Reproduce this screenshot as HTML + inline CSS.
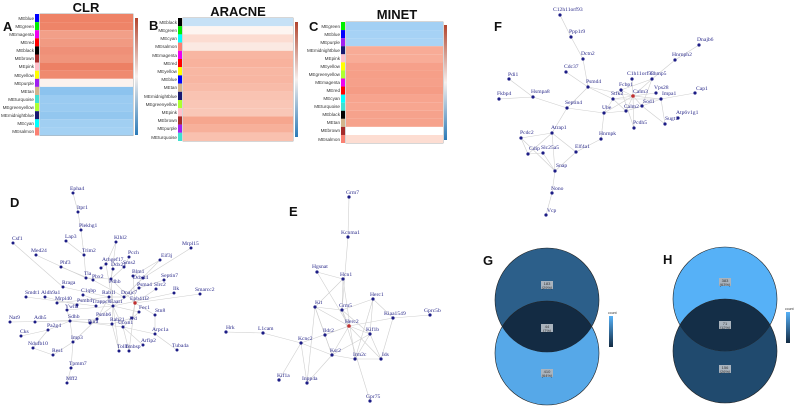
<!DOCTYPE html>
<html><head><meta charset="utf-8"><style>
html,body{margin:0;padding:0;background:#fff;}
svg{display:block;}
.lb{font-family:"Liberation Sans",sans-serif;font-size:4.6px;fill:#333;text-anchor:end;}
.t{font-family:"Liberation Sans",sans-serif;font-weight:bold;font-size:13px;fill:#111;text-anchor:middle;}
.P{font-family:"Liberation Sans",sans-serif;font-weight:bold;font-size:13px;fill:#111;}
.e line{stroke:#cfcfcf;stroke-width:0.6;}
.n circle{fill:#1c1c85;}
.n text{font-family:"Liberation Serif",serif;font-size:5.6px;fill:#2a2a8a;}
.v{font-family:"Liberation Sans",sans-serif;font-size:4px;fill:#333;text-anchor:middle;}
</style></head><body>
<svg width="800" height="410" viewBox="0 0 800 410" xmlns="http://www.w3.org/2000/svg">
<defs>
<linearGradient id="cb" x1="0" y1="0" x2="0" y2="1"><stop offset="0" stop-color="#b2452e"/><stop offset="0.5" stop-color="#f6f0ee"/><stop offset="1" stop-color="#2a7ab8"/></linearGradient>
<linearGradient id="vg" x1="0" y1="0" x2="0" y2="1"><stop offset="0" stop-color="#56b1f7"/><stop offset="1" stop-color="#132b43"/></linearGradient>
<clipPath id="gTop"><circle cx="547" cy="300" r="52"/></clipPath>
<clipPath id="hTop"><circle cx="725" cy="299" r="52"/></clipPath>
</defs>

<!-- Titles & letters -->
<text class="t" x="86" y="12">CLR</text>
<text class="t" x="238" y="16">ARACNE</text>
<text class="t" x="397" y="19">MINET</text>
<text class="P" x="3" y="31">A</text>
<text class="P" x="149" y="30">B</text>
<text class="P" x="309" y="31">C</text>
<text class="P" x="10" y="207">D</text>
<text class="P" x="289" y="216">E</text>
<text class="P" x="494" y="31">F</text>
<text class="P" x="483" y="265">G</text>
<text class="P" x="663" y="264">H</text>

<!-- Heatmap A -->
<g>
<rect x="40" y="14" width="93" height="121.5" fill="#fff" stroke="#999" stroke-width="0.8"/>
<rect x="40" y="14" width="93" height="8.1" fill="#ee8266"/>
<rect x="40" y="22.1" width="93" height="8.1" fill="#ee8468"/>
<rect x="40" y="30.2" width="93" height="8.1" fill="#f29f88"/>
<rect x="40" y="38.3" width="93" height="8.1" fill="#f19a82"/>
<rect x="40" y="46.4" width="93" height="8.1" fill="#ef9078"/>
<rect x="40" y="54.5" width="93" height="8.1" fill="#f0957c"/>
<rect x="40" y="62.6" width="93" height="8.1" fill="#ed8064"/>
<rect x="40" y="70.7" width="93" height="8.1" fill="#ef8a6f"/>
<rect x="40" y="78.8" width="93" height="8.1" fill="#fbf2ee"/>
<rect x="40" y="86.9" width="93" height="8.1" fill="#8cc3ee"/>
<rect x="40" y="95" width="93" height="8.1" fill="#9acbf1"/>
<rect x="40" y="103.1" width="93" height="8.1" fill="#9acbf1"/>
<rect x="40" y="111.2" width="93" height="8.1" fill="#93c7ef"/>
<rect x="40" y="119.3" width="93" height="8.1" fill="#a1cff2"/>
<rect x="40" y="127.4" width="93" height="8.1" fill="#a4d1f3"/>
<rect x="35" y="14" width="4" height="8.1" fill="#0000ff"/><rect x="35" y="22.1" width="4" height="8.1" fill="#00ee00"/><rect x="35" y="30.2" width="4" height="8.1" fill="#ee00ee"/><rect x="35" y="38.3" width="4" height="8.1" fill="#ff0000"/><rect x="35" y="46.4" width="4" height="8.1" fill="#000"/><rect x="35" y="54.5" width="4" height="8.1" fill="#a52a2a"/><rect x="35" y="62.6" width="4" height="8.1" fill="#ffc0cb"/><rect x="35" y="70.7" width="4" height="8.1" fill="#ffff00"/><rect x="35" y="78.8" width="4" height="8.1" fill="#a020f0"/><rect x="35" y="86.9" width="4" height="8.1" fill="#d2b48c"/><rect x="35" y="95" width="4" height="8.1" fill="#40e0d0"/><rect x="35" y="103.1" width="4" height="8.1" fill="#adff2f"/><rect x="35" y="111.2" width="4" height="8.1" fill="#191970"/><rect x="35" y="119.3" width="4" height="8.1" fill="#00ffff"/><rect x="35" y="127.4" width="4" height="8.1" fill="#fa8072"/>
<text class="lb" x="34" y="20">MEblue</text><text class="lb" x="34" y="28">MEgreen</text><text class="lb" x="34" y="36">MEmagenta</text><text class="lb" x="34" y="44">MEred</text><text class="lb" x="34" y="52">MEblack</text><text class="lb" x="34" y="60">MEbrown</text><text class="lb" x="34" y="68">MEpink</text><text class="lb" x="34" y="77">MEyellow</text><text class="lb" x="34" y="85">MEpurple</text><text class="lb" x="34" y="93">MEtan</text><text class="lb" x="34" y="101">MEturquoise</text><text class="lb" x="34" y="109">MEgreenyellow</text><text class="lb" x="34" y="117">MEmidnightblue</text><text class="lb" x="34" y="125">MEcyan</text><text class="lb" x="34" y="133">MEsalmon</text>
<rect x="135" y="18" width="3" height="117" fill="url(#cb)"/>
</g>

<!-- Heatmap B -->
<g>
<rect x="183" y="18" width="110" height="123" fill="#fff" stroke="#999" stroke-width="0.8"/>
<rect x="183" y="18" width="110" height="8.2" fill="#c6e1f6"/>
<rect x="183" y="26.2" width="110" height="8.2" fill="#fdf5f1"/>
<rect x="183" y="34.4" width="110" height="8.2" fill="#fcdcd1"/>
<rect x="183" y="42.6" width="110" height="8.2" fill="#fbe9e2"/>
<rect x="183" y="50.8" width="110" height="8.2" fill="#f8b6a2"/>
<rect x="183" y="59" width="110" height="8.2" fill="#f8b29d"/>
<rect x="183" y="67.2" width="110" height="8.2" fill="#f8b7a3"/>
<rect x="183" y="75.4" width="110" height="8.2" fill="#f8b6a2"/>
<rect x="183" y="83.6" width="110" height="8.2" fill="#f8bba8"/>
<rect x="183" y="91.8" width="110" height="8.2" fill="#f9c3b2"/>
<rect x="183" y="100" width="110" height="8.2" fill="#f9c6b6"/>
<rect x="183" y="108.2" width="110" height="8.2" fill="#f9c7b7"/>
<rect x="183" y="116.4" width="110" height="8.2" fill="#f6a68e"/>
<rect x="183" y="124.6" width="110" height="8.2" fill="#f7b09a"/>
<rect x="183" y="132.8" width="110" height="8.2" fill="#f9c1af"/>
<rect x="178" y="18" width="4" height="8.2" fill="#000"/><rect x="178" y="26.2" width="4" height="8.2" fill="#00ee00"/><rect x="178" y="34.4" width="4" height="8.2" fill="#00ffff"/><rect x="178" y="42.6" width="4" height="8.2" fill="#fa8072"/><rect x="178" y="50.8" width="4" height="8.2" fill="#ee00ee"/><rect x="178" y="59" width="4" height="8.2" fill="#ff0000"/><rect x="178" y="67.2" width="4" height="8.2" fill="#ffff00"/><rect x="178" y="75.4" width="4" height="8.2" fill="#0000ff"/><rect x="178" y="83.6" width="4" height="8.2" fill="#d2b48c"/><rect x="178" y="91.8" width="4" height="8.2" fill="#191970"/><rect x="178" y="100" width="4" height="8.2" fill="#adff2f"/><rect x="178" y="108.2" width="4" height="8.2" fill="#ffc0cb"/><rect x="178" y="116.4" width="4" height="8.2" fill="#a52a2a"/><rect x="178" y="124.6" width="4" height="8.2" fill="#a020f0"/><rect x="178" y="132.8" width="4" height="8.2" fill="#40e0d0"/>
<text class="lb" x="177" y="24">MEblack</text><text class="lb" x="177" y="32">MEgreen</text><text class="lb" x="177" y="40">MEcyan</text><text class="lb" x="177" y="48">MEsalmon</text><text class="lb" x="177" y="57">MEmagenta</text><text class="lb" x="177" y="65">MEred</text><text class="lb" x="177" y="73">MEyellow</text><text class="lb" x="177" y="81">MEblue</text><text class="lb" x="177" y="89">MEtan</text><text class="lb" x="177" y="98">MEmidnightblue</text><text class="lb" x="177" y="106">MEgreenyellow</text><text class="lb" x="177" y="114">MEpink</text><text class="lb" x="177" y="122">MEbrown</text><text class="lb" x="177" y="130">MEpurple</text><text class="lb" x="177" y="139">MEturquoise</text>
<rect x="295" y="22" width="3" height="115" fill="url(#cb)"/>
</g>

<!-- Heatmap C -->
<g>
<rect x="346" y="22" width="97" height="121" fill="#fff" stroke="#999" stroke-width="0.8"/>
<rect x="346" y="22" width="97" height="8.07" fill="#a3d0f4"/>
<rect x="346" y="30.07" width="97" height="8.07" fill="#a6d2f5"/>
<rect x="346" y="38.14" width="97" height="8.07" fill="#a9d3f5"/>
<rect x="346" y="46.2" width="97" height="8.07" fill="#f8ab96"/>
<rect x="346" y="54.3" width="97" height="8.07" fill="#f8ac97"/>
<rect x="346" y="62.35" width="97" height="8.07" fill="#f6a08a"/>
<rect x="346" y="70.4" width="97" height="8.07" fill="#f69f88"/>
<rect x="346" y="78.5" width="97" height="8.07" fill="#f6a08a"/>
<rect x="346" y="86.56" width="97" height="8.07" fill="#f59c85"/>
<rect x="346" y="94.6" width="97" height="8.07" fill="#f7a48e"/>
<rect x="346" y="102.7" width="97" height="8.07" fill="#f7a690"/>
<rect x="346" y="110.77" width="97" height="8.07" fill="#f6a28c"/>
<rect x="346" y="118.84" width="97" height="8.07" fill="#f6a28c"/>
<rect x="346" y="126.9" width="97" height="8.07" fill="#ffffff"/>
<rect x="346" y="135" width="97" height="8" fill="#fdddd2"/>
<rect x="341" y="22" width="4" height="8.07" fill="#00ee00"/><rect x="341" y="30.07" width="4" height="8.07" fill="#0000ff"/><rect x="341" y="38.14" width="4" height="8.07" fill="#a020f0"/><rect x="341" y="46.2" width="4" height="8.07" fill="#191970"/><rect x="341" y="54.3" width="4" height="8.07" fill="#ffc0cb"/><rect x="341" y="62.35" width="4" height="8.07" fill="#ffff00"/><rect x="341" y="70.4" width="4" height="8.07" fill="#adff2f"/><rect x="341" y="78.5" width="4" height="8.07" fill="#ee00ee"/><rect x="341" y="86.56" width="4" height="8.07" fill="#ff0000"/><rect x="341" y="94.6" width="4" height="8.07" fill="#00ffff"/><rect x="341" y="102.7" width="4" height="8.07" fill="#40e0d0"/><rect x="341" y="110.77" width="4" height="8.07" fill="#000"/><rect x="341" y="118.84" width="4" height="8.07" fill="#d2b48c"/><rect x="341" y="126.9" width="4" height="8.07" fill="#a52a2a"/><rect x="341" y="135" width="4" height="8" fill="#fa8072"/>
<text class="lb" x="340" y="28">MEgreen</text><text class="lb" x="340" y="36">MEblue</text><text class="lb" x="340" y="44">MEpurple</text><text class="lb" x="340" y="52">MEmidnightblue</text><text class="lb" x="340" y="60">MEpink</text><text class="lb" x="340" y="68">MEyellow</text><text class="lb" x="340" y="76">MEgreenyellow</text><text class="lb" x="340" y="84">MEmagenta</text><text class="lb" x="340" y="92">MEred</text><text class="lb" x="340" y="100">MEcyan</text><text class="lb" x="340" y="108">MEturquoise</text><text class="lb" x="340" y="116">MEblack</text><text class="lb" x="340" y="124">MEtan</text><text class="lb" x="340" y="132">MEbrown</text><text class="lb" x="340" y="141">MEsalmon</text>
<rect x="444" y="25" width="3" height="115" fill="url(#cb)"/>
</g>

<!-- Network F -->
<g class="e">
<line x1="560" y1="15" x2="571" y2="37"/><line x1="571" y1="37" x2="583" y2="59"/><line x1="583" y1="59" x2="588" y2="87"/><line x1="566" y1="72" x2="588" y2="87"/><line x1="588" y1="87" x2="567" y2="108"/><line x1="588" y1="87" x2="613" y2="99"/><line x1="588" y1="87" x2="633" y2="96"/><line x1="509" y1="79" x2="533" y2="97"/><line x1="499" y1="99" x2="533" y2="97"/><line x1="533" y1="97" x2="567" y2="108"/><line x1="567" y1="108" x2="604" y2="113"/><line x1="567" y1="108" x2="552" y2="133"/><line x1="604" y1="113" x2="626" y2="111"/><line x1="604" y1="113" x2="613" y2="99"/><line x1="604" y1="113" x2="601" y2="139"/><line x1="604" y1="113" x2="633" y2="96"/><line x1="601" y1="139" x2="576" y2="152"/><line x1="576" y1="152" x2="552" y2="133"/><line x1="552" y1="133" x2="555" y2="171"/><line x1="552" y1="133" x2="521" y2="138"/><line x1="552" y1="133" x2="528" y2="154"/><line x1="521" y1="138" x2="528" y2="154"/><line x1="521" y1="138" x2="555" y2="171"/><line x1="528" y1="154" x2="543" y2="153"/><line x1="543" y1="153" x2="555" y2="171"/><line x1="555" y1="171" x2="576" y2="152"/><line x1="555" y1="171" x2="552" y2="193"/><line x1="552" y1="193" x2="546" y2="215"/><line x1="633" y1="96" x2="621" y2="90"/><line x1="633" y1="96" x2="613" y2="99"/><line x1="633" y1="96" x2="652" y2="79"/><line x1="633" y1="96" x2="656" y2="93"/><line x1="633" y1="96" x2="661" y2="99"/><line x1="633" y1="96" x2="642" y2="106"/><line x1="633" y1="96" x2="626" y2="111"/><line x1="633" y1="96" x2="632" y2="79"/><line x1="633" y1="96" x2="634" y2="128"/><line x1="652" y1="79" x2="675" y2="60"/><line x1="675" y1="60" x2="699" y2="45"/><line x1="661" y1="99" x2="695" y2="93"/><line x1="661" y1="99" x2="665" y2="124"/><line x1="642" y1="106" x2="665" y2="124"/><line x1="642" y1="106" x2="661" y2="99"/><line x1="626" y1="111" x2="642" y2="106"/><line x1="613" y1="99" x2="626" y2="111"/><line x1="621" y1="90" x2="634" y2="128"/><line x1="652" y1="79" x2="642" y2="106"/><line x1="621" y1="90" x2="652" y2="79"/><line x1="613" y1="99" x2="661" y2="99"/>
</g>
<g class="n">
<circle cx="560" cy="15" r="1.6"/><text x="553" y="11">C12h11orf93</text>
<circle cx="571" cy="37" r="1.6"/><text x="569" y="33">Ppp1r9</text>
<circle cx="583" cy="59" r="1.6"/><text x="581" y="55">Dctn2</text>
<circle cx="566" cy="72" r="1.6"/><text x="564" y="68">Cdc37</text>
<circle cx="588" cy="87" r="1.6"/><text x="586" y="83">Psmd4</text>
<circle cx="509" cy="79" r="1.6"/><text x="508" y="76">Pdi1</text>
<circle cx="499" cy="99" r="1.6"/><text x="497" y="95">Fkbp4</text>
<circle cx="533" cy="97" r="1.6"/><text x="531" y="93">Hsmpa8</text>
<circle cx="567" cy="108" r="1.6"/><text x="565" y="104">Septin4</text>
<circle cx="604" cy="113" r="1.6"/><text x="602" y="109">Ube</text>
<circle cx="613" cy="99" r="1.6"/><text x="611" y="95">Stfk2</text>
<circle cx="621" cy="90" r="1.6"/><text x="619" y="86">Fcbp1</text>
<circle cx="632" cy="79" r="1.6"/><text x="627" y="75">C1h11orf58</text>
<circle cx="652" cy="79" r="1.6"/><text x="650" y="75">Chmp5</text>
<circle cx="633" cy="96" r="1.8" style="fill:#c03030"/><text x="633" y="93">Calm3</text>
<circle cx="656" cy="93" r="1.6"/><text x="654" y="89">Vps28</text>
<circle cx="661" cy="99" r="1.6"/><text x="662" y="95">Impa1</text>
<circle cx="642" cy="106" r="1.6"/><text x="643" y="103">Sod1</text>
<circle cx="626" cy="111" r="1.6"/><text x="624" y="108">Calm2</text>
<circle cx="634" cy="128" r="1.6"/><text x="633" y="124">Pcdh5</text>
<circle cx="675" cy="60" r="1.6"/><text x="672" y="56">Hnrnph2</text>
<circle cx="699" cy="45" r="1.6"/><text x="697" y="41">Dnajb6</text>
<circle cx="695" cy="93" r="1.6"/><text x="696" y="90">Cap1</text>
<circle cx="678" cy="118" r="1.6"/><text x="676" y="114">Atp6v1g1</text>
<circle cx="665" cy="124" r="1.6"/><text x="665" y="120">Sugt1</text>
<circle cx="601" cy="139" r="1.6"/><text x="599" y="135">Hnrnpk</text>
<circle cx="552" cy="133" r="1.6"/><text x="551" y="129">Atrap1</text>
<circle cx="521" cy="138" r="1.6"/><text x="520" y="134">Pcdc2</text>
<circle cx="528" cy="154" r="1.6"/><text x="529" y="150">Cdip</text>
<circle cx="543" cy="153" r="1.6"/><text x="541" y="149">Slc25a5</text>
<circle cx="576" cy="152" r="1.6"/><text x="575" y="148">Elf4a1</text>
<circle cx="555" cy="171" r="1.6"/><text x="556" y="167">Snap</text>
<circle cx="552" cy="193" r="1.6"/><text x="551" y="190">Nono</text>
<circle cx="546" cy="215" r="1.6"/><text x="547" y="212">Vcp</text>
</g>

<!-- Network E -->
<g class="e">
<line x1="349" y1="197" x2="348" y2="237"/><line x1="348" y1="237" x2="342" y2="310"/><line x1="317" y1="272" x2="343" y2="279"/><line x1="317" y1="272" x2="349" y2="326"/><line x1="343" y1="279" x2="342" y2="310"/><line x1="343" y1="279" x2="315" y2="307"/><line x1="343" y1="279" x2="355" y2="359"/><line x1="315" y1="307" x2="342" y2="310"/><line x1="315" y1="307" x2="349" y2="326"/><line x1="315" y1="307" x2="325" y2="335"/><line x1="315" y1="307" x2="307" y2="383"/><line x1="315" y1="307" x2="332" y2="355"/><line x1="342" y1="310" x2="373" y2="299"/><line x1="342" y1="310" x2="349" y2="326"/><line x1="342" y1="310" x2="370" y2="334"/><line x1="342" y1="310" x2="370" y2="401"/><line x1="373" y1="299" x2="393" y2="318"/><line x1="373" y1="299" x2="370" y2="334"/><line x1="373" y1="299" x2="355" y2="359"/><line x1="393" y1="318" x2="430" y2="315"/><line x1="393" y1="318" x2="349" y2="326"/><line x1="393" y1="318" x2="381" y2="359"/><line x1="349" y1="326" x2="370" y2="334"/><line x1="349" y1="326" x2="325" y2="335"/><line x1="349" y1="326" x2="332" y2="355"/><line x1="349" y1="326" x2="381" y2="359"/><line x1="349" y1="326" x2="301" y2="343"/><line x1="370" y1="334" x2="332" y2="355"/><line x1="370" y1="334" x2="355" y2="359"/><line x1="370" y1="334" x2="381" y2="359"/><line x1="325" y1="335" x2="332" y2="355"/><line x1="301" y1="343" x2="263" y2="333"/><line x1="263" y1="333" x2="226" y2="332"/><line x1="301" y1="343" x2="279" y2="380"/><line x1="301" y1="343" x2="307" y2="383"/><line x1="301" y1="343" x2="332" y2="355"/><line x1="332" y1="355" x2="355" y2="359"/><line x1="355" y1="359" x2="381" y2="359"/><line x1="332" y1="355" x2="307" y2="383"/>
</g>
<g class="n">
<circle cx="349" cy="197" r="1.6"/><text x="346" y="194">Grm7</text>
<circle cx="348" cy="237" r="1.6"/><text x="341" y="234">Kcnma1</text>
<circle cx="317" cy="272" r="1.6"/><text x="312" y="268">Hgsnat</text>
<circle cx="343" cy="279" r="1.6"/><text x="340" y="276">Hcn1</text>
<circle cx="315" cy="307" r="1.6"/><text x="315" y="304">Kit</text>
<circle cx="342" cy="310" r="1.6"/><text x="339" y="307">Grm5</text>
<circle cx="373" cy="299" r="1.6"/><text x="370" y="296">Herc1</text>
<circle cx="393" cy="318" r="1.6"/><text x="384" y="315">Kiaa1549</text>
<circle cx="430" cy="315" r="1.6"/><text x="424" y="312">Gprc5b</text>
<circle cx="349" cy="326" r="1.8" style="fill:#c03030"/><text x="345" y="323">Herc2</text>
<circle cx="370" cy="334" r="1.6"/><text x="366" y="331">Kif1b</text>
<circle cx="325" cy="335" r="1.6"/><text x="323" y="332">Ildr2</text>
<circle cx="301" cy="343" r="1.6"/><text x="298" y="340">Kcnc2</text>
<circle cx="263" cy="333" r="1.6"/><text x="258" y="330">L1cam</text>
<circle cx="226" cy="332" r="1.6"/><text x="226" y="329">Hrk</text>
<circle cx="332" cy="355" r="1.6"/><text x="330" y="352">Ksr2</text>
<circle cx="355" cy="359" r="1.6"/><text x="353" y="356">Irm2c</text>
<circle cx="381" cy="359" r="1.6"/><text x="382" y="356">Ids</text>
<circle cx="279" cy="380" r="1.6"/><text x="277" y="377">Kif1a</text>
<circle cx="307" cy="383" r="1.6"/><text x="302" y="380">Inpp4a</text>
<circle cx="370" cy="401" r="1.6"/><text x="366" y="398">Gpr75</text>
</g>

<!-- Network D -->
<g class="e">
<line x1="73" y1="193" x2="78" y2="212"/><line x1="78" y1="212" x2="81" y2="230"/><line x1="81" y1="230" x2="84" y2="255"/><line x1="66" y1="241" x2="84" y2="255"/><line x1="84" y1="255" x2="86" y2="278"/><line x1="13" y1="243" x2="63" y2="287"/><line x1="36" y1="255" x2="86" y2="278"/><line x1="61" y1="267" x2="93" y2="280"/><line x1="116" y1="242" x2="106" y2="264"/><line x1="116" y1="242" x2="111" y2="279"/><line x1="191" y1="248" x2="143" y2="278"/><line x1="160" y1="260" x2="133" y2="276"/><line x1="160" y1="260" x2="124" y2="297"/><line x1="129" y1="257" x2="124" y2="267"/><line x1="124" y1="267" x2="111" y2="279"/><line x1="106" y1="264" x2="101" y2="268"/><line x1="106" y1="264" x2="113" y2="306"/><line x1="113" y1="269" x2="111" y2="279"/><line x1="86" y1="278" x2="111" y2="279"/><line x1="93" y1="280" x2="124" y2="297"/><line x1="111" y1="279" x2="135" y2="303"/><line x1="111" y1="279" x2="113" y2="306"/><line x1="133" y1="276" x2="135" y2="303"/><line x1="143" y1="278" x2="124" y2="297"/><line x1="164" y1="280" x2="139" y2="288"/><line x1="139" y1="288" x2="113" y2="306"/><line x1="156" y1="289" x2="135" y2="303"/><line x1="174" y1="293" x2="113" y2="306"/><line x1="200" y1="294" x2="135" y2="303"/><line x1="63" y1="287" x2="109" y2="297"/><line x1="83" y1="295" x2="113" y2="306"/><line x1="26" y1="297" x2="96" y2="306"/><line x1="45" y1="297" x2="77" y2="305"/><line x1="57" y1="303" x2="109" y2="297"/><line x1="124" y1="297" x2="109" y2="297"/><line x1="109" y1="297" x2="97" y2="319"/><line x1="113" y1="306" x2="67" y2="310"/><line x1="113" y1="306" x2="90" y2="323"/><line x1="113" y1="306" x2="112" y2="324"/><line x1="113" y1="306" x2="123" y2="327"/><line x1="113" y1="306" x2="119" y2="351"/><line x1="113" y1="306" x2="139" y2="312"/><line x1="135" y1="303" x2="132" y2="318"/><line x1="135" y1="303" x2="155" y2="315"/><line x1="135" y1="303" x2="129" y2="351"/><line x1="10" y1="322" x2="70" y2="321"/><line x1="35" y1="322" x2="97" y2="319"/><line x1="70" y1="321" x2="90" y2="323"/><line x1="70" y1="321" x2="48" y2="330"/><line x1="70" y1="321" x2="73" y2="342"/><line x1="70" y1="321" x2="112" y2="324"/><line x1="67" y1="310" x2="70" y2="321"/><line x1="48" y1="330" x2="21" y2="336"/><line x1="48" y1="330" x2="33" y2="348"/><line x1="33" y1="348" x2="53" y2="355"/><line x1="73" y1="342" x2="53" y2="355"/><line x1="73" y1="342" x2="71" y2="368"/><line x1="71" y1="368" x2="67" y2="383"/><line x1="97" y1="319" x2="73" y2="342"/><line x1="123" y1="327" x2="143" y2="345"/><line x1="123" y1="327" x2="155" y2="334"/><line x1="155" y1="334" x2="177" y2="350"/><line x1="155" y1="315" x2="155" y2="334"/><line x1="132" y1="318" x2="112" y2="324"/><line x1="139" y1="312" x2="123" y2="327"/><line x1="123" y1="327" x2="129" y2="351"/><line x1="112" y1="324" x2="119" y2="351"/><line x1="90" y1="323" x2="123" y2="327"/>
</g>
<g class="n">
<circle cx="73" cy="193" r="1.5"/><text x="70" y="190">Epha4</text>
<circle cx="78" cy="212" r="1.5"/><text x="77" y="209">Itpr1</text>
<circle cx="81" cy="230" r="1.5"/><text x="79" y="227">Plekhg1</text>
<circle cx="66" cy="241" r="1.5"/><text x="65" y="238">Lap3</text>
<circle cx="13" cy="243" r="1.5"/><text x="12" y="240">Csf1</text>
<circle cx="116" cy="242" r="1.5"/><text x="114" y="239">Klhl2</text>
<circle cx="191" cy="248" r="1.5"/><text x="182" y="245">Mrpl15</text>
<circle cx="36" cy="255" r="1.5"/><text x="31" y="252">Med24</text>
<circle cx="84" cy="255" r="1.5"/><text x="82" y="252">Trim2</text>
<circle cx="129" cy="257" r="1.5"/><text x="128" y="254">Pcch</text>
<circle cx="160" cy="260" r="1.5"/><text x="161" y="257">Eif3j</text>
<circle cx="106" cy="264" r="1.5"/><text x="102" y="261">Arhgef17</text>
<circle cx="124" cy="267" r="1.5"/><text x="123" y="264">Sms2</text>
<circle cx="61" cy="267" r="1.5"/><text x="60" y="264">Phf3</text>
<circle cx="101" cy="268" r="1.5"/>
<circle cx="113" cy="269" r="1.5"/><text x="111" y="266">Ddx21</text>
<circle cx="133" cy="276" r="1.5"/><text x="132" y="273">Blm1</text>
<circle cx="143" cy="278" r="1.5"/><text x="133" y="279">Ddx24</text>
<circle cx="164" cy="280" r="1.5"/><text x="161" y="277">Septin7</text>
<circle cx="86" cy="278" r="1.5"/><text x="84" y="275">Tia</text>
<circle cx="93" cy="280" r="1.5"/><text x="92" y="278">Pbx2</text>
<circle cx="111" cy="279" r="1.5"/><text x="109" y="283">Pdhb</text>
<circle cx="63" cy="287" r="1.5"/><text x="62" y="284">Rraga</text>
<circle cx="139" cy="288" r="1.5"/><text x="137" y="286">Psma4</text>
<circle cx="156" cy="289" r="1.5"/><text x="154" y="286">Slrc2</text>
<circle cx="174" cy="293" r="1.5"/><text x="173" y="290">Ilk</text>
<circle cx="200" cy="294" r="1.5"/><text x="195" y="291">Smarcc2</text>
<circle cx="83" cy="295" r="1.5"/><text x="81" y="292">C1qbp</text>
<circle cx="124" cy="297" r="1.5"/><text x="121" y="294">Dnajc7</text>
<circle cx="26" cy="297" r="1.5"/><text x="25" y="294">Smdt1</text>
<circle cx="45" cy="297" r="1.5"/><text x="41" y="294">Aldh9a1</text>
<circle cx="57" cy="303" r="1.5"/><text x="55" y="300">Mrpl40</text>
<circle cx="109" cy="297" r="1.5"/><text x="102" y="294">Rab1l</text>
<circle cx="135" cy="303" r="1.7" style="fill:#c03030"/><text x="130" y="300">Epb41l2</text>
<circle cx="77" cy="305" r="1.5"/><text x="77" y="302">Psmb4</text>
<circle cx="96" cy="306" r="1.5"/><text x="92" y="303">Trappc8</text>
<circle cx="113" cy="306" r="1.5"/><text x="110" y="303">Eaat1</text>
<circle cx="67" cy="310" r="1.5"/><text x="65" y="308">Ywha</text>
<circle cx="10" cy="322" r="1.5"/><text x="9" y="319">Nat9</text>
<circle cx="35" cy="322" r="1.5"/><text x="34" y="319">Adh5</text>
<circle cx="70" cy="321" r="1.5"/><text x="68" y="318">Sdhb</text>
<circle cx="97" cy="319" r="1.5"/><text x="96" y="316">Psmb6</text>
<circle cx="90" cy="323" r="1.5"/><text x="88" y="323">Pura</text>
<circle cx="112" cy="324" r="1.5"/><text x="110" y="321">Rab21</text>
<circle cx="139" cy="312" r="1.5"/><text x="139" y="309">Fec1</text>
<circle cx="155" cy="315" r="1.5"/><text x="155" y="312">Stn8</text>
<circle cx="132" cy="318" r="1.5"/><text x="129" y="320">Jvd</text>
<circle cx="123" cy="327" r="1.5"/><text x="118" y="324">Ubxn1</text>
<circle cx="48" cy="330" r="1.5"/><text x="47" y="327">Pa2g4</text>
<circle cx="21" cy="336" r="1.5"/><text x="20" y="333">Cks</text>
<circle cx="155" cy="334" r="1.5"/><text x="152" y="331">Arpc1a</text>
<circle cx="73" cy="342" r="1.5"/><text x="71" y="339">Imp3</text>
<circle cx="33" cy="348" r="1.5"/><text x="28" y="345">Ndufb10</text>
<circle cx="143" cy="345" r="1.5"/><text x="141" y="342">Arfip2</text>
<circle cx="129" cy="351" r="1.5"/><text x="125" y="348">Tmbsp</text>
<circle cx="119" cy="351" r="1.5"/><text x="117" y="348">Tollb</text>
<circle cx="177" cy="350" r="1.5"/><text x="172" y="347">Tuba4a</text>
<circle cx="53" cy="355" r="1.5"/><text x="52" y="352">Res1</text>
<circle cx="71" cy="368" r="1.5"/><text x="69" y="365">Tpmm7</text>
<circle cx="67" cy="383" r="1.5"/><text x="66" y="380">Mff2</text>
</g>

<!-- Venn G -->
<circle cx="547" cy="353" r="52" fill="#56a8e8" stroke="#222" stroke-width="0.6"/>
<circle cx="547" cy="300" r="52" fill="#2c5f8a" stroke="#222" stroke-width="0.6"/>
<circle cx="547" cy="353" r="52" fill="#132b43" stroke="#222" stroke-width="0.6" clip-path="url(#gTop)"/>
<rect x="541" y="281" width="12" height="8" fill="#aab4be"/><text class="v" x="547" y="285">183</text><text class="v" x="547" y="289">(29%)</text>
<rect x="541" y="324" width="12" height="8" fill="#aab4be"/><text class="v" x="547" y="328">44</text><text class="v" x="547" y="332">(7%)</text>
<rect x="541" y="369" width="12" height="8" fill="#aab4be"/><text class="v" x="547" y="373">410</text><text class="v" x="547" y="377">(64%)</text>
<text x="608" y="314" style="font-family:'Liberation Sans';font-size:3.5px;fill:#333">count</text>
<rect x="609" y="316" width="4" height="31" fill="url(#vg)"/>

<!-- Venn H -->
<circle cx="725" cy="351" r="52" fill="#204a6e" stroke="#222" stroke-width="0.6"/>
<circle cx="725" cy="299" r="52" fill="#56b1f7" stroke="#222" stroke-width="0.6"/>
<circle cx="725" cy="351" r="52" fill="#142e47" stroke="#222" stroke-width="0.6" clip-path="url(#hTop)"/>
<rect x="719" y="278" width="12" height="8" fill="#aab4be"/><text class="v" x="725" y="282">383</text><text class="v" x="725" y="286">(63%)</text>
<rect x="719" y="321" width="12" height="8" fill="#aab4be"/><text class="v" x="725" y="325">71</text><text class="v" x="725" y="329">(12%)</text>
<rect x="719" y="365" width="12" height="8" fill="#aab4be"/><text class="v" x="725" y="369">156</text><text class="v" x="725" y="373">(26%)</text>
<text x="785" y="310" style="font-family:'Liberation Sans';font-size:3.5px;fill:#333">count</text>
<rect x="786" y="312" width="4" height="31" fill="url(#vg)"/>
</svg>
</body></html>
